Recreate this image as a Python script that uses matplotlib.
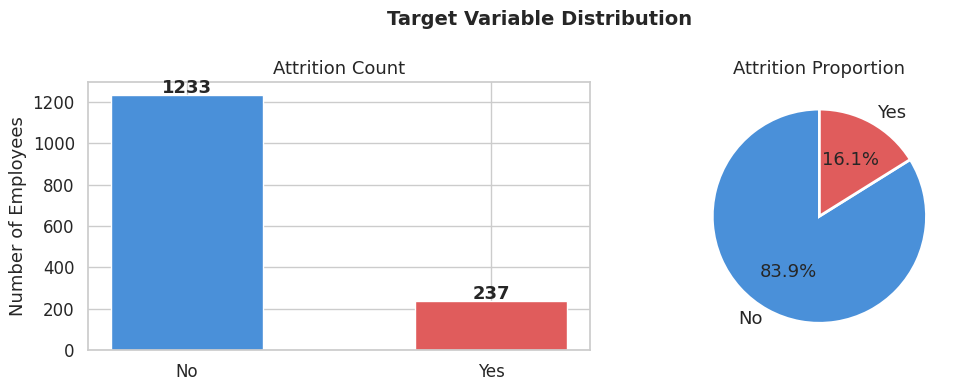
import matplotlib
matplotlib.use("Agg")
import matplotlib.pyplot as plt
import seaborn as sns

categories = ["No", "Yes"]
counts = [1233, 237]
colors = ["#4A90D9", "#E05C5C"]

sns.set_theme(style="whitegrid", font_scale=1.1)
plt.rcParams['font.family'] = ['DejaVu Sans']

fig = plt.figure(figsize=(9.64, 3.92), dpi=100)
ax1 = fig.add_axes([0.0913, 0.107, 0.521, 0.683])
ax2 = fig.add_axes([0.70, 0.107, 0.30, 0.683])

bars = ax1.bar(categories, counts, color=colors, width=0.5)
for b, v in zip(bars, counts):
    ax1.text(b.get_x() + b.get_width() / 2, v - 10, str(v), ha="center", va="bottom",
             fontweight="bold", fontsize=13)
ax1.set_title("Attrition Count", fontsize=13)
ax1.set_ylabel("Number of Employees", fontsize=13)
ax1.set_ylim(0, 1295)
ax1.tick_params(labelsize=12)

ax2.pie(counts, labels=categories, colors=colors, autopct="%1.1f%%", startangle=90,
        wedgeprops={"edgecolor": "white", "linewidth": 2}, textprops={"fontsize": 13})
ax2.set_title("Attrition Proportion", fontsize=13)
ax2.set_aspect("equal")

fig.suptitle("Target Variable Distribution", x=0.56, fontsize=14, fontweight="bold", y=0.975)
fig.savefig("out.png", dpi=100)
